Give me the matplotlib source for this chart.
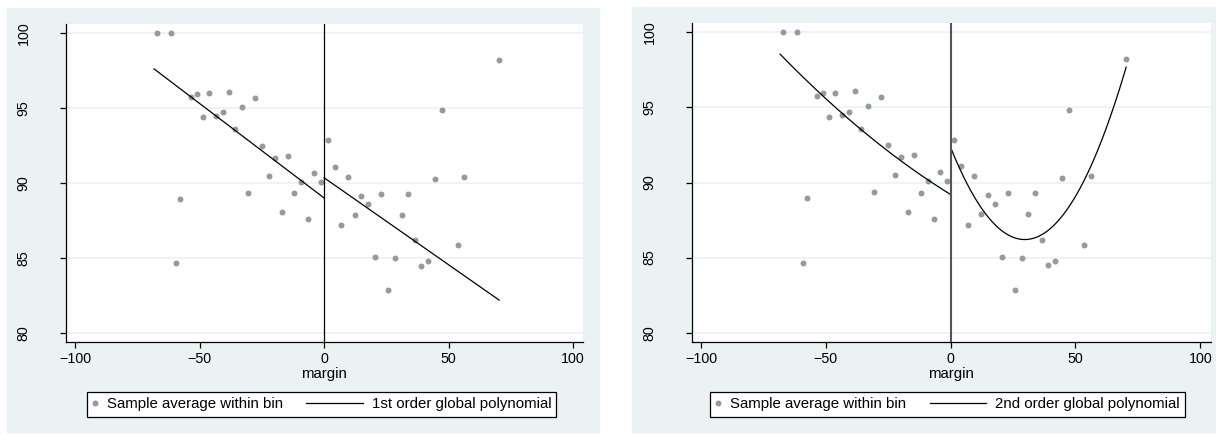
import numpy as np
import matplotlib
matplotlib.use("Agg")
import matplotlib.pyplot as plt
from matplotlib.patches import Rectangle
from matplotlib.legend_handler import HandlerLine2D

plt.rcParams['font.family'] = ['Liberation Sans', 'DejaVu Sans']

# bin centres (margin) and sample averages
margin_left = [-67.3, -61.7, -59.3, -57.7, -53.5, -51.2, -48.8, -46.2, -43.5,
               -40.8, -38.3, -35.7, -33.1, -30.5, -27.8, -25.1, -22.3, -19.8,
               -17.1, -14.6, -11.9, -9.2, -6.5, -4.1, -1.3]
avg_left = [100.0, 100.0, 84.64, 88.95, 95.77, 95.97, 94.39, 95.99, 94.50,
            94.72, 96.08, 93.59, 95.10, 89.35, 95.66, 92.47, 90.49, 91.67,
            88.06, 91.82, 89.31, 90.09, 87.59, 90.69, 90.09]
margin_right = [1.5, 4.3, 6.8, 9.5, 12.3, 15.0, 17.6, 20.4, 23.0, 25.7, 28.4,
                31.2, 33.9, 36.5, 39.1, 41.9, 44.5, 47.3, 53.6, 56.2, 70.2]
avg_right = [92.85, 91.09, 87.17, 90.42, 87.88, 89.15, 88.57, 85.06, 89.29,
             82.83, 84.99, 87.88, 89.27, 86.19, 84.48, 84.77, 90.29, 94.86,
             85.86, 90.42, 98.24]

# support of the running variable on each side of the cutoff
support_left = (-68.3, 0.0)
support_right = (0.0, 70.3)

# global polynomial coefficients (highest power first), estimated from the curves
poly1_left = [-0.1262, 89.0]
poly1_right = [-0.1162, 90.35]
poly2_left = [0.0005, -0.1027, 89.2]
poly2_right = [0.00696, -0.4134, 92.34]

legend_dots = "Sample average within bin"
legend_fits = ["1st order global polynomial", "2nd order global polynomial"]
xticks = [-100, -50, 0, 50, 100]
yticks = [80, 85, 90, 95, 100]

BG = '#EAF2F3'
DOT = '#999999'
FS_TICK = 10.3
FS_TEXT = 10.8


class LongLine(HandlerLine2D):
    # stata-style key: a long line ending just before the label
    def create_artists(self, legend, orig_handle, xdescent, ydescent,
                       width, height, fontsize, trans):
        arts = super().create_artists(legend, orig_handle, xdescent, ydescent,
                                      width, height, fontsize, trans)
        end = -xdescent + width
        y = arts[0].get_ydata()[0]
        arts[0].set_data([end - 40.7, end], [y, y])
        return arts


def drawPanel(ax, cl, cr, fit_label, cut_color, cut_lw, legend_x):
    ax.set_facecolor('white')
    dots, = ax.plot(margin_left + margin_right, avg_left + avg_right, 'o',
                    ms=4.3, color=DOT, mec='none', zorder=3)
    xl = np.linspace(support_left[0], support_left[1], 200)
    xr = np.linspace(support_right[0], support_right[1], 200)
    fit, = ax.plot(xl, np.polyval(cl, xl), color='black', lw=0.9, zorder=4)
    ax.plot(xr, np.polyval(cr, xr), color='black', lw=0.9, zorder=4)
    ax.axvline(0, color=cut_color, lw=cut_lw, zorder=5)

    ax.set_xticks(xticks)
    ax.set_yticks(yticks)
    ax.set_yticklabels([str(v) for v in yticks], rotation=90, va='center')
    ax.yaxis.grid(True, color=BG, lw=1.2)
    ax.set_axisbelow(True)
    for s in ['top', 'right']:
        ax.spines[s].set_visible(False)
    for s in ['left', 'bottom']:
        ax.spines[s].set_linewidth(0.9)
        ax.spines[s].set_color('black')
    ax.tick_params(axis='both', direction='out', length=4.2, width=0.9,
                   labelsize=FS_TICK, colors='black')
    ax.tick_params(axis='y', pad=21)
    ax.tick_params(axis='x', pad=3.5)
    ax.set_xlabel("margin", fontsize=FS_TEXT, labelpad=0.5)

    leg = ax.legend([dots, fit], [legend_dots, fit_label], loc='center',
                    bbox_to_anchor=(legend_x, 0.068),
                    bbox_transform=ax.figure.transFigure, ncol=2,
                    fontsize=FS_TEXT, frameon=True, fancybox=False,
                    framealpha=1, edgecolor='black', borderpad=0.35,
                    handlelength=0.4, handletextpad=0.58, columnspacing=4.95,
                    numpoints=1, handler_map={fit: LongLine()})
    leg.get_frame().set_linewidth(0.9)


fig = plt.figure(figsize=(12.16, 4.34), dpi=100)
fig.patch.set_facecolor('white')
W, H = 1216.0, 434.0
fig.patches.append(Rectangle((7 / W, 1 - 432.3 / H), 592.3 / W, 424.3 / H,
                             transform=fig.transFigure, color=BG, zorder=-5))
fig.patches.append(Rectangle((632 / W, 1 - 432.3 / H), 584 / W, 425 / H,
                             transform=fig.transFigure, color=BG, zorder=-5))

axL = fig.add_axes([65.7 / W, 1 - 341.7 / H, 517.3 / W, 317.7 / H])
axL.set_xlim(-103.8, 104.0)
axL.set_ylim(79.4, 100.62)
drawPanel(axL, poly1_left, poly1_right, legend_fits[0], 'black', 0.9, 0.2644)

axR = fig.add_axes([691.7 / W, 1 - 341.7 / H, 519.3 / W, 318.4 / H])
axR.set_xlim(-103.7, 104.3)
axR.set_ylim(79.4, 100.6)
drawPanel(axR, poly2_left, poly2_right, legend_fits[1], '#555555', 1.5, 0.779)

fig.savefig("out.png", dpi=100, facecolor=fig.get_facecolor())
